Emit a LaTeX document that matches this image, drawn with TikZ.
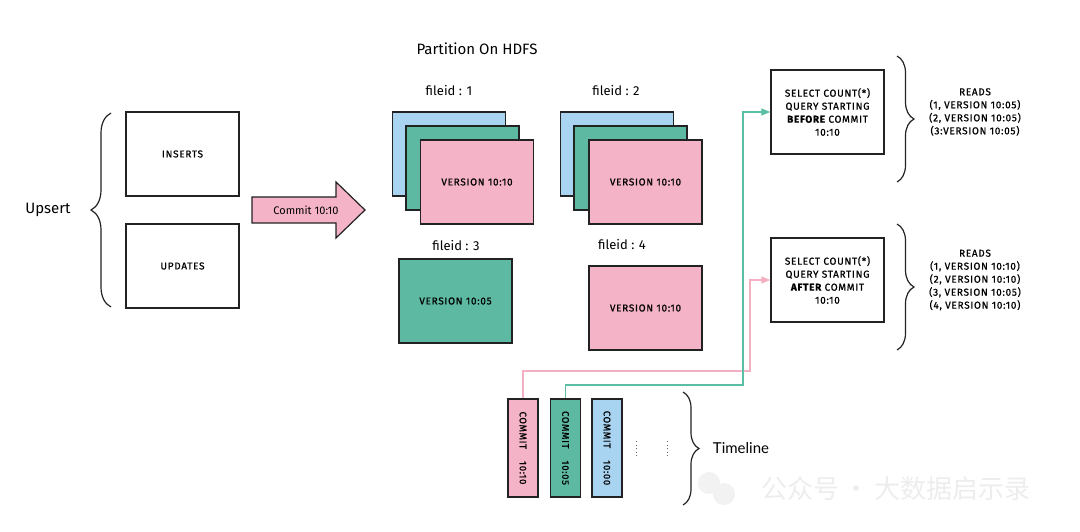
\documentclass[tikz,border=0pt]{standalone}
\usepackage{fontspec}
\setmainfont{Fira Sans}
\newfontfamily\boxfont[LetterSpace=7,FakeBold=0.8]{Fira Sans}
\newfontfamily\tlfont{Lato}
\newfontfamily\cjkfont{Noto Sans CJK SC}
\usetikzlibrary{arrows.meta,decorations.pathreplacing}
\definecolor{pinkc}{HTML}{F5B3C8}
\definecolor{greenc}{HTML}{5DB9A2}
\definecolor{bluec}{HTML}{A8D4F1}
\definecolor{pinkl}{HTML}{F3B0C3}
\definecolor{greenl}{HTML}{5CBFA5}
\definecolor{inkc}{HTML}{222222}
\begin{document}
\begin{tikzpicture}[x=1pt,y=-1pt,
 box/.style={draw=inkc, line width=1.3pt, minimum width=113pt, minimum height=84pt, inner sep=0pt, font=\boxfont\fontsize{10}{13}\selectfont, align=center},
 commitbox/.style={draw=inkc, line width=1.3pt, minimum width=30pt, minimum height=98pt, inner sep=0pt, font=\boxfont\fontsize{9.5}{11}\selectfont},
 lbl/.style={font=\fontsize{15}{17}\selectfont},
 fid/.style={font=\fontsize{13}{15}\selectfont},
 readtxt/.style={font=\boxfont\fontsize{10}{13}\selectfont, align=center},
 brc/.style={draw=inkc, line width=1.2pt, decorate},
 conn/.style={line width=1.2pt, -{Triangle[length=9pt,width=7pt]}},
]
\useasboundingbox (0,0) rectangle (1080,532);

% left part
\node[box] (ins) at (182.5,154) {INSERTS};
\node[box] (upd) at (182.5,266) {UPDATES};
\node[lbl] (upsert) at (48,210) {Upsert};
\draw[brc, decoration={brace,amplitude=20pt}] (111,307) -- (111,113);

% commit arrow
\draw[fill=pinkc, draw=inkc, line width=1.2pt] (252,197) -- (336,197) -- (336,182) -- (365,210) -- (336,238) -- (336,223) -- (252,223) -- cycle;
\node[font=\fontsize{11}{13}\selectfont] (cm) at (306,210) {Commit 10:10};

% partition
\node[lbl] (part) at (477,49) {Partition On HDFS};
\node[fid] (fid1) at (449,91) {fileid : 1};
\node[fid] (fid2) at (616,91) {fileid : 2};
\node[fid] (fid3) at (456,246) {fileid : 3};
\node[fid] (fid4) at (622,245) {fileid : 4};

\node[box, fill=bluec] (f1a) at (449,154) {};
\node[box, fill=greenc] (f1b) at (462.5,168) {};
\node[box, fill=pinkc] (f1c) at (477,182) {VERSION 10:10};

\node[box, fill=bluec] (f2a) at (617,154) {};
\node[box, fill=greenc] (f2b) at (630.5,168) {};
\node[box, fill=pinkc] (f2c) at (645.5,182) {VERSION 10:10};

\node[box, fill=greenc] (f3) at (455.5,301) {VERSION 10:05};
\node[box, fill=pinkc] (f4) at (645.5,308) {VERSION 10:10};

% queries
\node[box] (q1) at (827.5,112) {SELECT COUNT(*)\\QUERY STARTING\\{\bfseries BEFORE} COMMIT\\10:10};
\node[box] (q2) at (827.5,280) {SELECT COUNT(*)\\QUERY STARTING\\{\bfseries AFTER} COMMIT\\10:10};
\draw[brc, decoration={brace,amplitude=17pt}] (897,56) -- (897,182);
\draw[brc, decoration={brace,amplitude=17pt}] (897,224) -- (897,350);
\node[readtxt] (r1) at (975,112) {READS\\(1, VERSION 10:05)\\(2, VERSION 10:05)\\(3:VERSION 10:05)};
\node[readtxt] (r2) at (975,280) {READS\\(1, VERSION 10:10)\\(2, VERSION 10:10)\\(3, VERSION 10:05)\\(4, VERSION 10:10)};

% timeline
\node[commitbox, fill=pinkc] (c1) at (523,448) {\rotatebox{-90}{COMMIT\hspace{12pt}10:10}};
\node[commitbox, fill=greenc] (c2) at (565.5,448) {\rotatebox{-90}{COMMIT\hspace{12pt}10:05}};
\node[commitbox, fill=bluec] (c3) at (607,448) {\rotatebox{-90}{COMMIT\hspace{12pt}10:00}};
\draw[line width=1pt, dash pattern=on 1pt off 2.5pt, inkc!70] (636,441) -- (636,456);
\draw[line width=1pt, dash pattern=on 1pt off 2.5pt, inkc!70] (667,441) -- (667,456);
\draw[brc, decoration={brace,amplitude=16pt}] (683,392) -- (683,505);
\node[font=\tlfont\fontsize{15}{17}\selectfont] (tl) at (741,448) {Timeline};

% connectors
\coordinate (pk) at (750,371);
\coordinate (gk) at (743,385);
\draw[conn, pinkl] (c1.north) |- (pk) |- (q2.west);
\draw[conn, greenl] (c2.north) |- (gk) |- (q1.west);

% watermark
\fill[black!5] (709,483) circle (11);
\fill[black!5] (724,494) circle (11);
\node[font=\cjkfont\fontsize{26}{28}\selectfont, text=black!7] (wm) at (896,489) {公众号\,·\,大数据启示录};
\end{tikzpicture}
\end{document}
